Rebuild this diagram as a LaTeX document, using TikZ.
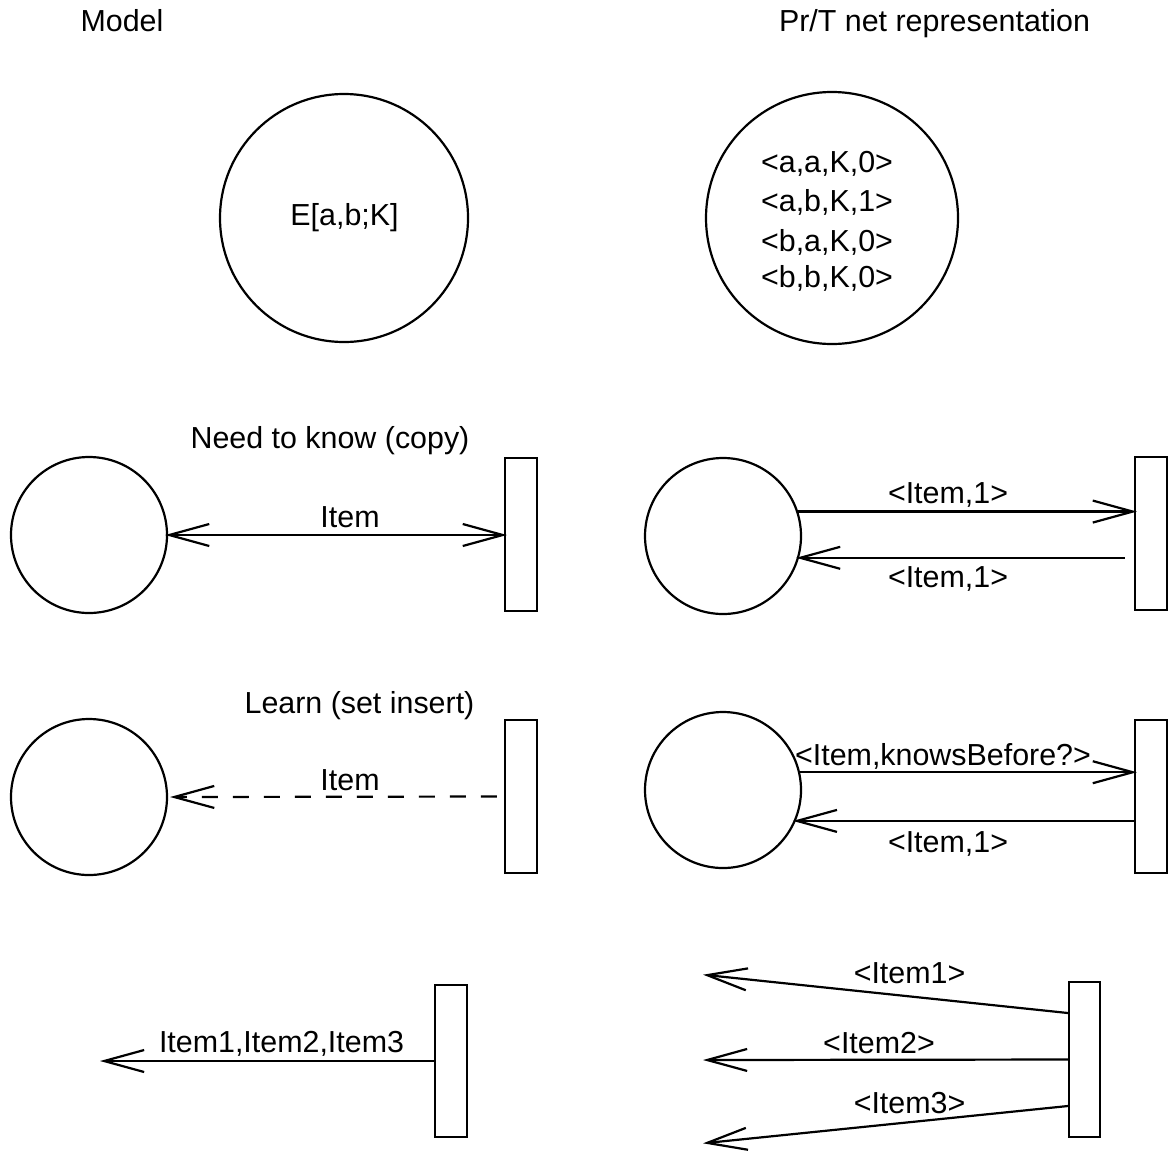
\documentclass[tikz,border=0pt]{standalone}
\usepackage{fontspec}
\setmainfont{Liberation Sans}
\usetikzlibrary{arrows.meta,calc}

\begin{document}
\begin{tikzpicture}[
    x=0.5pt, y=-0.5pt,
    every node/.style={font=\fontsize{15.2}{19}\selectfont},
    line width=1.1pt,
    place/.style={draw, circle, inner sep=0pt, line width=1.1pt},
    trans/.style={draw, rectangle, inner sep=0pt, minimum width=16pt, minimum height=76.5pt, line width=1.1pt},
    txt/.style={anchor=base, inner sep=0pt},
    barb/.tip={Straight Barb[length=20pt, width=11pt, line width=1.1pt]},
    arc/.style={-barb, shorten >=-1.5pt},
    biarc/.style={barb-barb, shorten >=-1.5pt, shorten <=-1.5pt},
  ]
  \useasboundingbox (0,0) rectangle (1170,1151);

  % column headings
  \node[txt] (hmodel) at (122,32) {Model};
  \node[txt] (hnet) at (934.5,32) {Pr/T net representation};

  % row 1: the relation place and its tuple marking
  \node[place, minimum size=124pt] (e1) at (344,218) {};
  \node[txt] (e1t) at (344.5,225) {E[a,b;K]};
  \node[place, minimum size=126pt] (e2) at (832,218) {};
  \node[txt] (m1) at (827,172) {<a,a,K,0>};
  \node[txt] (m2) at (827,211) {<a,b,K,1>};
  \node[txt] (m3) at (827,251) {<b,a,K,0>};
  \node[txt] (m4) at (827,287) {<b,b,K,0>};

  % row 2: need to know (copy)
  \node[txt] (hcopy) at (330,448) {Need to know (copy)};
  \node[place, minimum size=78pt] (c3) at (89,535) {};
  \node[trans] (t1) at (521,534.5) {};
  \draw[biarc] (c3.east) -- (c3.east -| t1.west);
  \node[txt] (l1) at (350,527) {Item};

  \node[place, minimum size=78pt] (c4) at (723,536) {};
  \node[trans] (t2) at (1151,533.5) {};
  \draw[arc] (c4.18) -- (c4.18 -| t2.west);
  \coordinate (b2) at ($(t2.west |- c4.-16)+(-9,0)$);
  \draw[arc] (b2) -- (c4.-16);
  \node[txt] (l2) at (948,503) {<Item,1>};
  \node[txt] (l3) at (948,587) {<Item,1>};

  % row 3: learn (set insert)
  \node[txt] (hlearn) at (359.5,713) {Learn (set insert)};
  \node[place, minimum size=78pt] (c5) at (89,797) {};
  \node[trans] (t3) at (521,796.5) {};
  \coordinate (d1) at ($(t3.west)+(-7,0)$);
  \coordinate (d2) at ($(c5.east)+(5,0)$);
  \draw[arc, dash pattern=on 8pt off 7.5pt] (d1) -- (d2);
  \node[txt] (l4) at (350,790) {Item};

  \node[place, minimum size=78pt] (c6) at (723,790) {};
  \node[trans] (t4) at (1151,796.5) {};
  \draw[arc] (c6.13) -- (c6.13 -| t4.west);
  \draw[arc] (t4.west |- c6.-23) -- (c6.-23);
  \node[txt] (l5) at (943,765) {<Item,knowsBefore?>};
  \node[txt] (l6) at (948,852) {<Item,1>};

  % row 4: several outputs on one arc
  \node[trans, minimum height=76pt] (t5) at (451,1061) {};
  \coordinate (o1) at (103,1061);
  \draw[arc] (t5.west) -- (o1);
  \node[txt] (l7) at (281.5,1052) {Item1,Item2,Item3};

  \node[trans, minimum width=15.5pt, minimum height=77.5pt] (t6) at (1084.5,1059.5) {};
  \coordinate (p1) at (706,975);
  \coordinate (p2) at (706,1060);
  \coordinate (p3) at (706,1143);
  \draw[arc] ($(t6.west)+(0,-46.5)$) -- (p1);
  \draw[arc] (t6.west) -- (p2);
  \draw[arc] ($(t6.west)+(0,46.5)$) -- (p3);
  \node[txt] (l8) at (909.5,983) {<Item1>};
  \node[txt] (l9) at (879,1053) {<Item2>};
  \node[txt] (l10) at (909.5,1113) {<Item3>};
\end{tikzpicture}
\end{document}
